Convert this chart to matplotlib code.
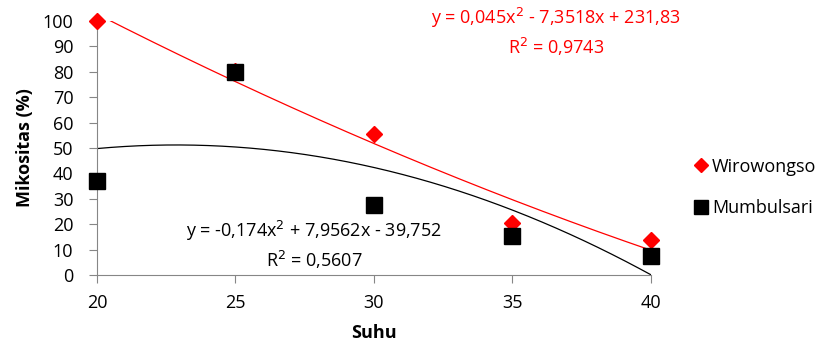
import numpy as np
import matplotlib.pyplot as plt

plt.rcParams['font.family'] = ['Open Sans', 'DejaVu Sans']

suhu = [20, 25, 30, 35, 40]
wirowongso = [100, 80.4, 55.5, 20.5, 13.7]
mumbulsari = [37, 80, 27.6, 15.3, 7.5]

# trendline coefficients as shown on the chart
coef_wiro = [0.045, -7.3518, 231.83]
coef_mumb = [-0.174, 7.9562, -39.752]
eq_wiro = 'y = 0,045x$^2$ - 7,3518x + 231,83\nR$^2$ = 0,9743'
eq_mumb = 'y = -0,174x$^2$ + 7,9562x - 39,752\nR$^2$ = 0,5607'

fig = plt.figure(figsize=(8.28, 3.45), dpi=100)
ax = fig.add_axes([0.117, 0.203, 0.669, 0.736])

xs = np.linspace(20, 40, 200)
ax.plot(xs, np.polyval(coef_wiro, xs), color='red', lw=0.9, zorder=2)
ax.plot(xs, np.polyval(coef_mumb, xs), color='black', lw=0.9, zorder=2)

ax.plot(suhu, wirowongso, 'D', color='red', ms=8.5, label='Wirowongso',
        clip_on=False, zorder=3)
ax.plot(suhu, mumbulsari, 's', color='black', ms=12, label='Mumbulsari',
        clip_on=False, zorder=4)

ax.set_xlim(20, 40)
ax.set_ylim(0, 100)
ax.set_xticks(suhu)
ax.set_yticks(range(0, 101, 10))
for s in ['top', 'right']:
    ax.spines[s].set_visible(False)
for s in ['left', 'bottom']:
    ax.spines[s].set_color('#868686')
ax.tick_params(colors='#868686', labelcolor='black', labelsize=13, length=6)
ax.tick_params(axis='x', pad=8)
ax.tick_params(axis='y', pad=11)

ax.set_xlabel('Suhu', fontsize=13, fontweight='bold', labelpad=8)
ax.set_ylabel('Mikositas (%)', fontsize=13, fontweight='bold', labelpad=6)

fig.text(556 / 828, 1 - 32 / 345, eq_wiro, color='red', fontsize=13,
         ha='center', va='center', linespacing=1.35)
fig.text(314 / 828, 1 - 245 / 345, eq_mumb, color='black', fontsize=13,
         ha='center', va='center', linespacing=1.35)

ax.legend(loc='center left', bbox_to_anchor=(1.045, 0.345), frameon=False,
          fontsize=13, handletextpad=0.1, labelspacing=1.3, handlelength=1,
          markerscale=0.85)

fig.savefig('out.png', dpi=100)
